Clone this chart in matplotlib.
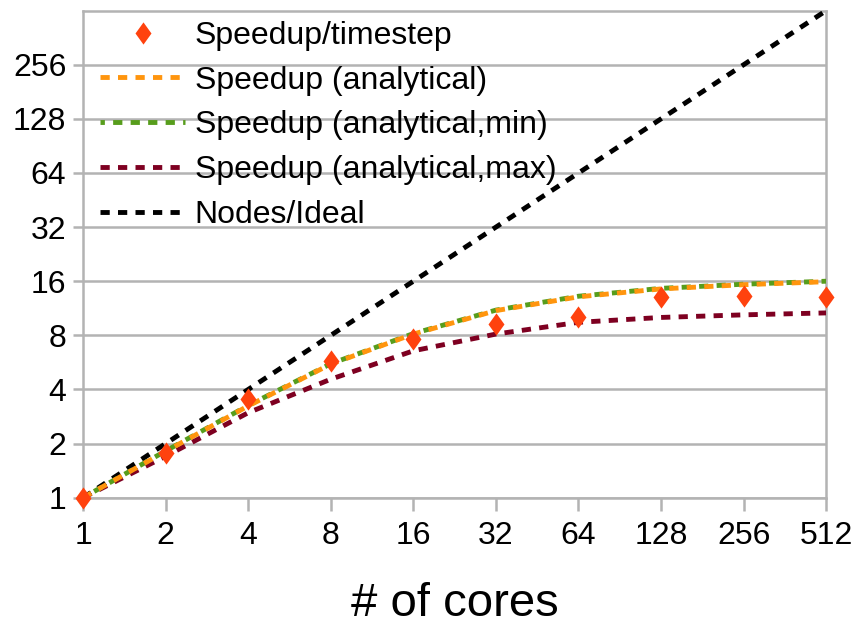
import matplotlib
matplotlib.use("Agg")
import matplotlib.pyplot as plt
from matplotlib import font_manager
from matplotlib.path import Path

cores = [1, 2, 4, 8, 16, 32, 64, 128, 256, 512]
speedup_timestep = [1.0, 1.78, 3.53, 5.77, 7.63, 9.25, 10.06, 13.1, 13.3, 13.1]
speedup_analytical = [1.0, 1.81, 3.24, 5.53, 8.13, 10.98, 13.1, 14.5, 15.3, 15.9]
speedup_min = [1.0, 1.82, 3.26, 5.56, 8.18, 11.05, 13.2, 14.6, 15.4, 16.0]
speedup_max = [1.0, 1.70, 2.97, 4.56, 6.56, 8.13, 9.45, 10.06, 10.4, 10.66]
ideal = [1, 2, 4, 8, 16, 32, 64, 128, 256, 512]
yticks = [1, 2, 4, 8, 16, 32, 64, 128, 256]

names = {f.name for f in font_manager.fontManager.ttflist}
fam = "Liberation Sans" if "Liberation Sans" in names else "DejaVu Sans"
plt.rcParams['font.family'] = [fam, 'DejaVu Sans']

diamond = Path([(0, 1), (0.72, 0), (0, -1), (-0.72, 0), (0, 1)],
               [Path.MOVETO, Path.LINETO, Path.LINETO, Path.LINETO, Path.CLOSEPOLY])

fig = plt.figure(figsize=(8.57, 6.26), dpi=100)
ax = fig.add_axes([0.097, 0.205, 0.867, 0.778])
ax.set_xscale('log', base=2)
ax.set_yscale('log', base=2)

lw = 3.5
dash = (0, (1.9, 1.7))
ax.plot(cores, ideal, color='black', lw=lw, linestyle=dash, label='Nodes/Ideal', zorder=3)
ax.plot(cores, speedup_max, color='#7e0021', lw=lw, linestyle=dash, label='Speedup (analytical,max)', zorder=3)
ax.plot(cores, speedup_min, color='#579d1c', lw=lw, linestyle=(1.0, (1.9, 1.7)), label='Speedup (analytical,min)', zorder=3)
ax.plot(cores, speedup_analytical, color='#ff950e', lw=lw, linestyle=dash, label='Speedup (analytical)', zorder=4)
ax.plot(cores, speedup_timestep, linestyle='none', marker=diamond, markersize=16,
        color='#ff420e', markeredgewidth=0, label='Speedup/timestep', zorder=5, clip_on=False)

ax.set_xlim(1, 512)
ax.set_ylim(1, 512)
ax.set_xticks(cores)
ax.set_xticklabels([str(c) for c in cores])
ax.set_yticks(yticks)
ax.set_yticklabels([str(v) for v in yticks])
ax.minorticks_off()
ax.yaxis.grid(True, color='#b3b3b3', lw=1.8)
ax.set_axisbelow(True)
for s in ax.spines.values():
    s.set_color('#b3b3b3')
    s.set_linewidth(1.8)
ax.tick_params(axis='both', colors='#b3b3b3', width=1.8, labelcolor='black', labelsize=23)
ax.tick_params(axis='x', length=9, pad=8)
ax.tick_params(axis='y', length=7, pad=5)

ax.set_xlabel('# of cores', fontsize=34, labelpad=22)

handles, labels = ax.get_legend_handles_labels()
order = [4, 3, 2, 1, 0]
leg = ax.legend([handles[i] for i in order], [labels[i] for i in order],
                loc='upper left', frameon=False, fontsize=23,
                handlelength=2.67, handletextpad=0.3, labelspacing=0.46,
                borderpad=0.2, borderaxespad=0.0, bbox_to_anchor=(0.014, 0.992))

fig.savefig('out.png', dpi=100)
